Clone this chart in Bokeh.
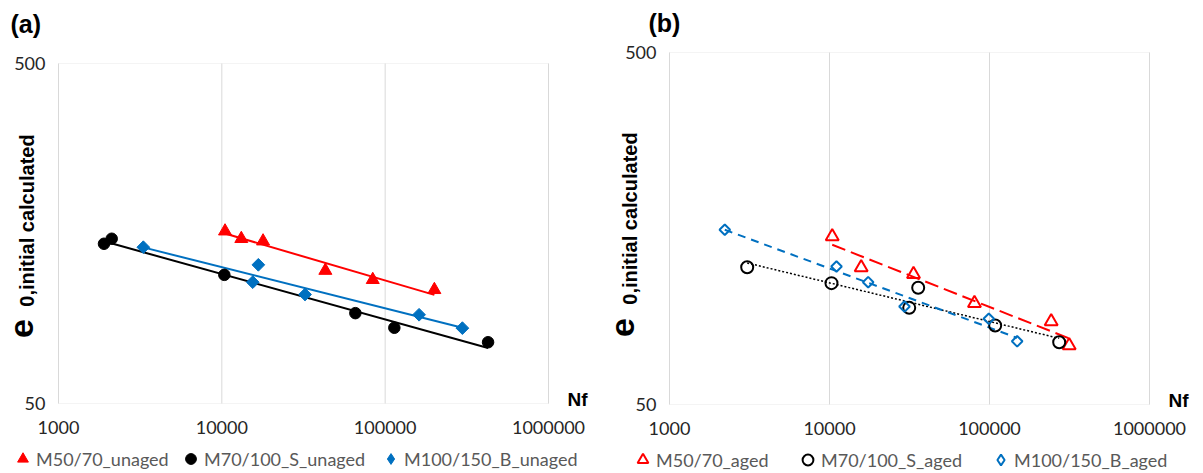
import numpy as np
from bokeh.plotting import figure
from bokeh.layouts import row
from bokeh.models import (Range1d, FixedTicker, NumeralTickFormatter, Label, Legend,
                          LegendItem, BoxAnnotation)
from bokeh.embed import file_html
from bokeh.resources import INLINE

# ---------------- data ----------------
x_ticks = [1000, 10000, 100000, 1000000]
y_ticks = [50, 500]

# Panel (a): unaged
a_m5070_nf = [10460, 13160, 17880, 43030, 83950, 200100]
a_m5070_e = [160.6, 152.6, 150.1, 123.0, 115.6, 108.0]
a_m70100_nf = [1899, 2117, 10360, 65700, 113800, 426600]
a_m70100_e = [147.5, 152.6, 119.5, 92.2, 83.5, 75.7]
a_m100150_nf = [3306, 16730, 15460, 32320, 161300, 297000]
a_m100150_e = [144.1, 127.9, 113.7, 104.6, 91.2, 83.3]

# Panel (b): aged
b_m5070_nf = [10400, 15780, 33500, 80540, 243000, 314900]
b_m5070_e = [150.0, 122.5, 117.3, 97.0, 86.0, 73.5]
b_m70100_nf = [3059, 10290, 35840, 31490, 108500, 272600]
b_m70100_e = [122.7, 110.6, 107.3, 94.1, 83.8, 75.1]
b_m100150_nf = [2216, 11060, 17450, 29420, 99000, 148900]
b_m100150_e = [156.8, 123.3, 111.3, 94.9, 87.6, 75.6]

labels_a = ["M50/70_unaged", "M70/100_S_unaged", "M100/150_B_unaged"]
labels_b = ["M50/70_aged", "M70/100_S_aged", "M100/150_B_aged"]

RED = "#ff0000"
BLACK = "#000000"
BLUE = "#0070c0"
GRID = "#d9d9d9"
BOLD_FONT = "Liberation Sans"
LIGHT_FONT = "Lato"
H = 473


def power_fit(x, y):
    lx, ly = np.log10(x), np.log10(y)
    b, a = np.polyfit(lx, ly, 1)
    xs = np.array([min(x), max(x)], dtype=float)
    return xs, 10 ** (a + b * np.log10(xs))


def base_fig(width, px_left, px_right, px_top, px_bottom):
    """Frame covers the whole canvas; the plot area (1e3..1e6, 50..500)
    is placed at the given pixel box by extending the log ranges."""
    xmin, xmax = x_ticks[0], x_ticks[-1]
    ymin, ymax = y_ticks[0], y_ticks[-1]
    xdec = (px_right - px_left) / np.log10(xmax / xmin)
    ydec = (px_bottom - px_top) / np.log10(ymax / ymin)
    x0 = xmin * 10 ** (-px_left / xdec)
    x1 = xmax * 10 ** ((width - px_right) / xdec)
    y0 = ymin * 10 ** (-(H - px_bottom) / ydec)
    y1 = ymax * 10 ** (px_top / ydec)
    p = figure(width=width, height=H, x_axis_type="log", y_axis_type="log",
               x_range=Range1d(x0, x1), y_range=Range1d(y0, y1),
               output_backend="svg", toolbar_location=None,
               min_border=0, min_border_left=0, min_border_right=0,
               min_border_top=0, min_border_bottom=0)
    p.outline_line_color = None
    p.xgrid.visible = False
    p.ygrid.visible = False
    p.xaxis.ticker = FixedTicker(ticks=x_ticks)
    p.yaxis.ticker = FixedTicker(ticks=y_ticks)
    p.xaxis.fixed_location = ymin
    p.yaxis.fixed_location = xmin
    p.xaxis.bounds = (xmin, xmax)
    p.yaxis.bounds = (ymin, ymax)
    for ax in (p.xaxis[0], p.yaxis[0]):
        ax.formatter = NumeralTickFormatter(format="0")
        ax.axis_line_color = None
        ax.major_tick_line_color = None
        ax.minor_tick_line_color = None
        ax.major_tick_in = 0
        ax.major_tick_out = 0
        ax.minor_tick_in = 0
        ax.minor_tick_out = 0
        ax.major_label_text_font = LIGHT_FONT
        ax.major_label_text_font_size = "18px"
        ax.major_label_text_color = "#262626"
    p.xaxis.major_label_standoff = 17
    p.yaxis.major_label_standoff = 13
    # vertical grid lines at the decade ticks, limited to the plot area
    p.segment(x0=x_ticks, y0=[ymin] * len(x_ticks), x1=x_ticks, y1=[ymax] * len(x_ticks),
              line_color=GRID, line_width=1)
    p.add_layout(BoxAnnotation(left=xmin, right=xmax, bottom=ymin, top=ymax,
                               fill_alpha=0, line_color=GRID, line_width=1))
    return p


def add_texts(p, tag, tag_x, tag_y, nf_x, nf_y, e_x, e_y, sub_x, sub_y):
    p.add_layout(Label(x=tag_x, y=tag_y, x_units="screen", y_units="screen", text=tag,
                       text_font=BOLD_FONT, text_font_style="bold", text_font_size="25px",
                       text_baseline="middle", text_color="#000000"))
    p.add_layout(Label(x=nf_x, y=nf_y, x_units="screen", y_units="screen", text="Nf",
                       text_font=BOLD_FONT, text_font_style="bold", text_font_size="19px",
                       text_baseline="middle", text_color="#000000"))
    p.add_layout(Label(x=e_x, y=e_y, x_units="screen", y_units="screen", text="e",
                       angle=np.pi / 2, text_font=BOLD_FONT, text_font_style="bold",
                       text_font_size="34px", text_align="center",
                       text_baseline="alphabetic", text_color="#000000"))
    p.add_layout(Label(x=sub_x, y=sub_y, x_units="screen", y_units="screen",
                       text="0,initial calculated", angle=np.pi / 2,
                       text_font=BOLD_FONT, text_font_style="bold", text_font_size="20px",
                       text_align="center", text_baseline="alphabetic",
                       text_color="#000000"))


def add_legend(p, renderer, label, x, y):
    lg = Legend(items=[LegendItem(label=label, renderers=[renderer])],
                location=(x, y), orientation="horizontal",
                glyph_width=27, glyph_height=27, label_standoff=0,
                padding=0, margin=0, spacing=0,
                border_line_color=None, background_fill_alpha=0,
                label_text_font=LIGHT_FONT, label_text_font_size="18px",
                label_text_color="#595959", label_text_baseline="middle")
    p.add_layout(lg)


# legend-only symbol source (a single undrawn NaN point)
NAN = [np.nan]

# ---------------- panel (a) ----------------
pa = base_fig(600, 58, 548, 63, 403)

for nf, e, col in [(a_m5070_nf, a_m5070_e, RED),
                   (a_m70100_nf, a_m70100_e, BLACK),
                   (a_m100150_nf, a_m100150_e, BLUE)]:
    xs, ys = power_fit(nf, e)
    pa.line(xs, ys, line_color=col, line_width=2)

ra1 = pa.scatter(a_m5070_nf, a_m5070_e, marker="triangle", size=13,
                 fill_color=RED, line_color=RED)
ra2 = pa.scatter(a_m70100_nf, a_m70100_e, marker="circle", size=11.5,
                 fill_color=BLACK, line_color=BLACK)
pa.scatter(a_m100150_nf, a_m100150_e, marker="square", size=9, angle=np.pi / 4,
           fill_color=BLUE, line_color=BLUE)
ra3 = pa.scatter(x=NAN, y=NAN, marker="diamond", size=12, fill_color=BLUE, line_color=BLUE)

add_texts(pa, "(a)", 10, H - 23, 567, H - 399, 20.6, H - 328, 26, H - 220)
add_legend(pa, ra1, labels_a[0], 9, 1)
add_legend(pa, ra2, labels_a[1], 177, 1)
add_legend(pa, ra3, labels_a[2], 377, 1)

# ---------------- panel (b) ----------------
pb = base_fig(603, 69, 549, 52, 404)

xs, ys = power_fit(b_m5070_nf, b_m5070_e)
pb.line(xs, ys, line_color=RED, line_width=2, line_dash="14 6")
xs, ys = power_fit(b_m70100_nf, b_m70100_e)
pb.line(xs, ys, line_color=BLACK, line_width=1.5, line_dash="2 2")
xs, ys = power_fit(b_m100150_nf, b_m100150_e)
pb.line(xs, ys, line_color=BLUE, line_width=2, line_dash="8 6")

rb1 = pb.scatter(b_m5070_nf, b_m5070_e, marker="triangle", size=13,
                 fill_color=None, line_color=RED, line_width=2)
rb2 = pb.scatter(b_m70100_nf, b_m70100_e, marker="circle", size=12,
                 fill_color=None, line_color=BLACK, line_width=2)
pb.scatter(b_m100150_nf, b_m100150_e, marker="square", size=7.5, angle=np.pi / 4,
           fill_color=None, line_color=BLUE, line_width=2)
rb3 = pb.scatter(x=NAN, y=NAN, marker="diamond", size=12, fill_color=None,
                 line_color=BLUE, line_width=2)

add_texts(pb, "(b)", 48, H - 22, 568, H - 400, 22.1, H - 327, 29.5, H - 218)
add_legend(pb, rb1, labels_b[0], 29, 0)
add_legend(pb, rb2, labels_b[1], 194, 0)
add_legend(pb, rb3, labels_b[2], 387, 0)

layout = row(pa, pb)
open("out.html", "w").write(file_html(layout, INLINE))
